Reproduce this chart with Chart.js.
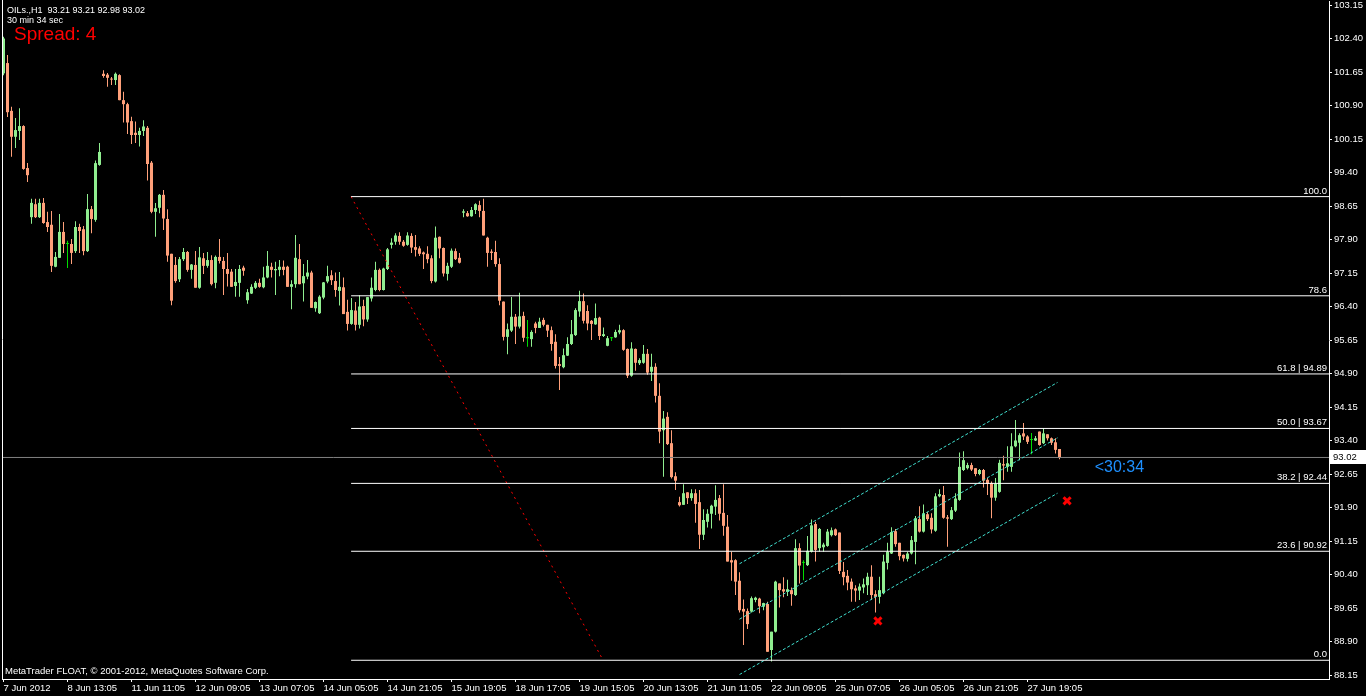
<!DOCTYPE html>
<html>
<head>
<meta charset="utf-8">
<title>OILs.,H1</title>
<script src="https://cdn.jsdelivr.net/npm/chart.js@4/dist/chart.umd.min.js"></script>
<style>
  html, body { margin: 0; padding: 0; background: #000; overflow: hidden; }
  canvas { display: block; background: #000; }
</style>
</head>
<body>
<canvas id="chart" width="1366" height="696"></canvas>
<script>
// hourly bars, OILs. H1
const openP = [
  101.62,101.85,100.78,100.20,100.33,100.44,99.50,98.40,98.69,98.40,
  98.72,98.29,98.23,97.29,97.49,98.07,97.80,97.80,97.64,98.18,
  98.13,97.64,98.58,98.34,99.57,101.61,101.59,101.50,101.47,101.58,
  101.02,100.93,100.55,100.29,100.24,100.33,100.40,99.62,98.52,98.61,
  98.90,98.36,97.58,97.33,97.01,97.46,97.62,97.22,97.33,96.82,
  97.48,97.31,97.44,96.93,97.51,97.42,97.24,97.18,96.86,96.93,
  97.27,96.54,96.69,96.82,96.93,96.83,97.05,97.29,97.21,97.22,
  97.29,97.29,96.84,96.90,97.46,96.92,97.07,97.16,96.36,96.25,
  96.60,96.96,97.10,96.97,96.75,96.83,96.28,96.01,96.31,95.99,
  96.41,96.11,96.58,96.77,97.22,96.77,97.24,97.78,97.85,97.98,
  97.85,97.78,97.98,97.73,97.70,97.61,97.58,97.48,96.96,97.96,
  97.71,97.13,97.29,97.64,97.49,98.50,98.49,98.42,98.56,98.67,
  98.54,97.94,97.63,97.62,97.35,96.51,95.72,95.86,96.17,95.95,
  96.19,95.69,95.67,96.02,95.92,96.10,95.99,95.87,95.61,95.11,
  95.04,95.30,95.56,95.76,96.29,96.52,96.30,96.08,96.00,96.15,
  95.74,95.52,95.69,95.71,95.82,95.87,95.45,94.85,95.45,95.13,
  95.14,95.34,94.94,95.05,94.40,93.63,93.93,93.34,92.60,92.02,
  91.96,92.24,92.11,92.22,92.02,91.29,91.58,91.76,91.92,92.11,
  91.78,91.47,90.72,90.72,90.26,89.63,89.58,89.57,89.83,89.86,
  89.68,89.74,88.71,89.12,90.20,90.07,90.01,90.05,89.94,90.99,
  90.66,90.61,90.91,91.53,90.99,91.01,91.04,91.28,91.41,91.34,
  90.46,90.37,90.24,90.09,90.04,90.11,90.16,90.35,89.96,89.90,
  89.98,90.66,90.87,91.37,91.11,90.84,90.75,90.87,91.13,91.64,
  91.36,91.75,91.67,91.38,92.15,92.18,91.68,91.64,91.83,92.07,
  92.74,92.78,92.85,92.78,92.65,92.74,92.52,92.45,92.12,92.25,
  92.87,92.81,92.81,93.27,93.35,93.56,93.49,93.41,93.40,93.60,
  93.34,93.54,93.45,93.36,93.21
];
const highP = [
  102.44,102.03,100.87,100.62,100.84,100.46,99.61,98.81,98.81,98.81,
  98.83,98.52,98.54,97.62,98.47,98.29,97.87,97.91,98.31,98.25,
  98.20,98.92,98.65,99.67,100.06,101.69,101.63,101.54,101.64,101.60,
  101.21,100.96,100.65,100.54,100.40,100.57,100.44,99.66,98.72,98.92,
  99.01,98.58,97.58,97.51,97.51,97.71,97.64,97.35,97.64,97.73,
  97.60,97.62,97.55,97.54,97.91,97.51,97.60,97.24,97.24,97.33,
  97.31,96.79,96.90,96.97,97.02,97.29,97.64,97.38,97.40,97.44,
  97.43,97.31,96.99,98.00,97.80,97.35,97.44,97.20,96.51,96.65,
  96.95,97.31,97.21,97.16,97.17,97.05,96.55,96.59,96.50,96.65,
  96.55,96.61,97.05,97.40,97.25,97.27,97.71,97.93,98.04,98.06,
  97.89,98.06,98.04,98.00,97.75,97.63,97.75,97.55,98.19,97.97,
  97.72,97.38,97.70,97.70,97.60,98.58,98.54,98.63,98.71,98.77,
  98.81,97.96,97.68,97.87,97.48,96.51,96.02,96.61,96.23,96.71,
  96.28,96.10,95.87,96.06,96.15,96.15,95.99,95.95,95.78,95.27,
  95.46,95.71,96.10,96.36,96.75,96.69,96.43,96.10,96.47,96.17,
  95.93,95.74,95.72,95.88,95.99,95.89,95.46,95.60,95.46,95.24,
  95.54,95.45,95.34,95.13,94.68,94.06,94.03,93.63,92.69,92.14,
  92.42,92.24,92.31,92.31,92.29,91.86,91.86,91.96,92.40,92.18,
  92.42,91.73,90.91,90.74,90.45,89.84,89.64,89.91,89.90,89.88,
  89.77,89.79,89.12,90.26,90.20,90.34,90.28,90.11,91.19,91.10,
  90.72,91.26,91.63,91.58,91.44,91.11,91.42,91.45,91.43,91.34,
  90.68,90.50,90.31,90.16,90.20,90.31,90.44,90.61,90.05,90.35,
  90.84,91.11,91.46,91.42,91.11,90.85,90.91,91.26,91.71,91.93,
  91.97,91.80,91.77,92.22,92.31,92.38,91.73,91.91,92.22,93.13,
  93.16,92.90,92.90,92.78,92.76,92.76,92.56,92.48,92.56,92.97,
  93.06,93.27,93.56,93.86,93.56,93.79,93.52,93.57,93.50,93.60,
  93.67,93.54,93.47,93.45,93.21
];
const lowP = [
  101.58,100.64,99.75,99.95,100.13,99.46,99.19,98.25,98.38,98.38,
  98.25,98.07,97.17,97.28,97.49,97.60,97.26,97.35,97.60,97.60,
  97.55,97.62,98.04,98.30,99.55,101.52,101.32,101.36,101.36,101.02,
  100.52,100.26,100.04,100.06,99.98,100.22,99.22,98.49,97.96,98.49,
  98.11,97.40,96.43,96.93,96.95,97.42,97.18,97.02,96.82,96.80,
  97.13,97.27,96.87,96.81,97.36,96.66,96.85,96.84,96.62,96.62,
  97.09,96.46,96.68,96.79,96.82,96.81,97.03,97.05,96.66,97.08,
  97.10,96.84,96.34,96.82,96.90,96.51,97.01,96.37,96.28,96.23,
  96.56,96.92,96.88,96.62,96.42,96.23,95.86,95.99,95.86,95.91,
  95.96,96.06,96.51,96.74,96.74,96.76,97.22,97.70,97.78,97.78,
  97.74,97.76,97.60,97.52,97.53,97.24,97.37,96.92,96.94,97.48,
  97.07,96.98,97.26,97.44,97.36,98.40,98.41,98.41,98.47,98.40,
  97.99,97.29,97.44,97.29,96.43,95.64,95.33,95.83,95.56,95.91,
  95.61,95.50,95.50,95.80,95.92,95.95,95.72,95.41,95.01,94.53,
  95.02,95.29,95.54,95.74,96.17,96.02,95.87,95.65,95.99,95.65,
  95.72,95.51,95.63,95.70,95.78,95.41,94.80,94.83,94.96,95.09,
  95.12,94.87,94.73,94.25,93.34,92.59,93.30,92.55,92.29,91.92,
  91.96,91.98,92.05,91.56,90.97,91.17,91.45,91.43,91.73,91.61,
  91.27,90.69,90.26,89.94,89.55,88.82,89.18,89.55,89.78,89.53,
  89.60,88.67,88.45,89.10,89.66,89.89,89.92,89.70,89.92,90.20,
  90.27,90.59,90.89,90.69,90.91,90.91,91.02,91.25,91.26,90.41,
  90.16,90.05,89.79,89.79,89.83,89.98,89.94,89.83,89.55,89.75,
  89.96,90.51,90.86,91.02,90.72,90.69,90.69,90.85,90.63,91.34,
  91.34,91.60,91.32,91.36,92.13,91.65,91.02,91.62,91.80,92.05,
  92.72,92.75,92.72,92.60,92.62,92.35,92.18,91.66,92.05,92.23,
  92.51,92.70,92.70,93.25,92.96,93.41,93.32,93.09,93.39,93.28,
  93.32,93.40,93.30,93.11,92.98
];
const closeP = [
  102.40,100.75,100.20,100.35,100.44,99.48,99.34,98.72,98.40,98.72,
  98.27,98.18,97.31,97.51,98.07,97.80,97.80,97.60,98.18,98.09,
  97.64,98.58,98.36,99.61,99.86,101.56,101.52,101.48,101.61,101.02,
  100.93,100.52,100.24,100.24,100.33,100.43,99.59,98.52,98.60,98.90,
  98.37,97.54,96.53,96.97,97.46,97.62,97.22,97.34,96.82,97.50,
  97.31,97.44,96.90,97.51,97.42,97.24,97.13,96.84,96.95,97.24,
  97.20,96.72,96.84,96.93,96.84,97.05,97.31,97.22,97.24,97.29,
  97.22,96.84,96.90,97.49,96.90,97.08,97.16,96.37,96.50,96.62,
  96.94,97.08,96.99,96.77,96.84,96.23,96.01,96.32,95.99,96.40,
  96.11,96.61,96.82,97.22,96.77,97.25,97.68,97.83,97.99,97.85,
  97.76,97.99,97.72,97.67,97.58,97.57,97.46,96.97,97.94,97.70,
  97.14,97.31,97.65,97.46,97.38,98.53,98.42,98.56,98.69,98.54,
  97.99,97.60,97.60,97.35,96.53,95.72,95.89,96.17,95.95,96.18,
  95.70,95.69,95.83,95.92,96.06,95.99,95.86,95.56,95.07,95.07,
  95.31,95.56,95.78,96.32,96.52,96.08,96.02,96.01,96.14,95.74,
  95.78,95.69,95.69,95.83,95.87,95.43,94.85,95.46,95.14,95.20,
  95.34,94.92,95.05,94.40,93.60,93.89,93.32,92.58,92.50,91.95,
  92.22,92.11,92.22,91.98,91.29,91.62,91.76,91.94,92.07,91.76,
  91.49,90.69,90.67,90.24,89.60,89.57,89.29,89.87,89.88,89.69,
  89.76,88.67,89.12,90.24,90.05,90.02,90.07,89.96,90.99,90.60,
  90.66,90.93,91.50,90.95,91.42,91.07,91.36,91.39,91.28,90.48,
  90.34,90.22,90.07,90.04,90.13,90.18,90.35,89.94,89.90,90.05,
  90.69,90.91,91.35,91.08,90.81,90.76,90.87,91.17,91.66,91.36,
  91.77,91.64,91.41,92.15,92.20,91.67,91.65,91.84,92.10,92.81,
  92.96,92.85,92.75,92.65,92.74,92.50,92.43,92.12,92.43,92.90,
  92.84,92.89,93.27,93.40,93.52,93.49,93.37,93.41,93.45,93.30,
  93.56,93.45,93.35,93.19,93.02
];

// time axis: one label every 16 bars
const dateTicks = [0,16,32,48,64,80,96,112,128,144,160,176,192,208,224,240,256];
const dateLabels = ['7 Jun 2012','8 Jun 13:05','11 Jun 11:05','12 Jun 09:05','13 Jun 07:05',
  '14 Jun 05:05','14 Jun 21:05','15 Jun 19:05','18 Jun 17:05','19 Jun 15:05','20 Jun 13:05',
  '21 Jun 11:05','22 Jun 09:05','25 Jun 07:05','26 Jun 05:05','26 Jun 21:05','27 Jun 19:05'];
const priceTicks = [88.15,88.90,89.65,90.40,91.15,91.90,92.65,93.40,94.15,94.90,95.65,
  96.40,97.15,97.90,98.65,99.40,100.15,100.90,101.65,102.40,103.15];

// fibo retracement object
const fibLevels = ['0.0','23.6','38.2','50.0','61.8','78.6','100.0'];
const fibPrices = [88.48,90.92,92.44,93.67,94.89,96.64,98.86];
const fibShowPrice = [false,true,true,true,true,false,false];
const fibTrendX = [86.9,149.9];
const fibTrendY = [98.86,88.48];

// equidistant channel
const channelX = [184,263.5];
const channelUpper = [90.64,94.70];
const channelMid = [89.40,93.46];
const channelLower = [88.16,92.22];

// arrows (red crosses)
const crossX = [218.6,265.9];
const crossY = [89.36,92.05];

const bid = 93.02;
const header = 'OILs.,H1  93.21 93.21 92.98 93.02';
const timer = '30 min 34 sec';
const spreadText = 'Spread: 4';
const countdown = '<30:34';
const copyright = 'MetaTrader FLOAT, \u00a9 2001-2012, MetaQuotes Software Corp.';

const xMin = -0.375, xMax = 331.375;
const yMin = 88.0606, yMax = 103.2396;
const FONT = '"Liberation Sans", Arial, sans-serif';

const BULL = '#90ee90', BEAR = '#ffa07a', DOJI = '#00dd00';
const candleColor = openP.map((o, i) => closeP[i] > o ? BULL : (closeP[i] < o ? BEAR : DOJI));

const bodies = openP.map((o, i) => ({ x: i, y: [Math.min(o, closeP[i]), Math.max(o, closeP[i])] }));
const wicks = openP.map((o, i) => ({ x: i, y: [lowP[i], highP[i]] }));

function seg(x0, y0, x1, y1) { return [{ x: x0, y: y0 }, { x: x1, y: y1 }]; }

const lineBase = { type: 'line', pointRadius: 0, borderWidth: 1, fill: false, tension: 0, order: 0 };

const fibSets = fibPrices.map(p => Object.assign({}, lineBase, {
  data: seg(fibTrendX[0], p, xMax, p), borderColor: '#ffffff'
}));

const overlay = {
  id: 'overlay',
  afterDraw(chart) {
    const { ctx, chartArea: a, scales: { x, y } } = chart;
    ctx.save();
    ctx.strokeStyle = '#ffffff';
    ctx.lineWidth = 1;
    ctx.beginPath();
    ctx.moveTo(a.left + 0.5, 0);
    ctx.lineTo(a.left + 0.5, a.bottom);
    ctx.stroke();

    // fibo level captions
    ctx.font = '9.5px ' + FONT;
    ctx.fillStyle = '#ffffff';
    ctx.textAlign = 'right';
    ctx.textBaseline = 'bottom';
    fibLevels.forEach((lvl, k) => {
      const t = fibShowPrice[k] ? lvl + ' | ' + fibPrices[k].toFixed(2) : lvl;
      ctx.fillText(t, a.right - 2, Math.round(y.getPixelForValue(fibPrices[k])) - 1);
    });

    ctx.textAlign = 'left';
    ctx.textBaseline = 'middle';
    ctx.font = '9px ' + FONT;
    ctx.fillText(header, 7, 11);
    ctx.fillText(timer, 7, 21);
    ctx.font = '9.5px ' + FONT;
    ctx.fillText(copyright, 5, 671);
    ctx.font = '19px ' + FONT;
    ctx.fillStyle = '#ff0000';
    ctx.fillText(spreadText, 14, 35);

    const by = y.getPixelForValue(bid);
    ctx.font = '16px ' + FONT;
    ctx.fillStyle = '#1e90ff';
    ctx.fillText(countdown, x.getPixelForValue(openP.length + 7.8), by + 10);

    ctx.fillStyle = '#ffffff';
    ctx.fillRect(a.right + 1, Math.round(by) - 7, 36, 14);
    ctx.fillStyle = '#000000';
    ctx.font = '9.5px ' + FONT;
    ctx.fillText(bid.toFixed(2), a.right + 4, Math.round(by));
    ctx.restore();
  }
};

new Chart(document.getElementById('chart'), {
  type: 'bar',
  data: {
    datasets: [
      ...fibSets,
      Object.assign({}, lineBase, { data: seg(xMin, bid, xMax, bid), borderColor: '#808080', order: 1 }),
      Object.assign({}, lineBase, { data: seg(fibTrendX[0], fibTrendY[0], fibTrendX[1], fibTrendY[1]),
        borderColor: '#ff0000', borderDash: [2, 4] }),
      Object.assign({}, lineBase, { data: seg(channelX[0], channelUpper[0], channelX[1], channelUpper[1]),
        borderColor: '#40e0d0', borderDash: [3, 2] }),
      Object.assign({}, lineBase, { data: seg(channelX[0], channelMid[0], channelX[1], channelMid[1]),
        borderColor: '#40e0d0', borderDash: [3, 2] }),
      Object.assign({}, lineBase, { data: seg(channelX[0], channelLower[0], channelX[1], channelLower[1]),
        borderColor: '#40e0d0', borderDash: [3, 2] }),
      {
        type: 'scatter', data: crossX.map((v, i) => ({ x: v, y: crossY[i] })),
        pointStyle: 'crossRot', pointRadius: 5, borderWidth: 3,
        borderColor: '#ff0000', backgroundColor: '#ff0000', order: 0
      },
      {
        label: 'body', data: bodies, backgroundColor: candleColor, barThickness: 3,
        grouped: false, minBarLength: 1, inflateAmount: 0, borderWidth: 0, order: 5
      },
      {
        label: 'wick', data: wicks, backgroundColor: candleColor, barThickness: 1,
        grouped: false, inflateAmount: 0, borderWidth: 0, order: 6
      }
    ]
  },
  options: {
    responsive: false,
    devicePixelRatio: 1,
    animation: false,
    events: [],
    layout: { autoPadding: false, padding: { left: 2, top: 1, right: 0, bottom: 0 } },
    plugins: { legend: { display: false }, tooltip: { enabled: false } },
    scales: {
      x: {
        type: 'linear', min: xMin, max: xMax, offset: false,
        grid: { drawOnChartArea: false, drawTicks: true, tickLength: 3, color: '#ffffff', offset: false },
        border: { color: '#ffffff' },
        ticks: {
          color: '#ffffff', font: { family: FONT, size: 9.5 }, align: 'start',
          maxRotation: 0, autoSkip: false, padding: 1,
          callback: v => { const k = dateTicks.indexOf(v); return k >= 0 ? dateLabels[k] : ''; }
        },
        afterBuildTicks: s => { s.ticks = dateTicks.map(v => ({ value: v })); },
        afterFit: s => { s.height = 17; s.paddingLeft = 0; s.paddingRight = 0; }
      },
      y: {
        position: 'right', min: yMin, max: yMax, beginAtZero: false,
        grid: { drawOnChartArea: false, tickLength: 3, color: '#ffffff' },
        border: { color: '#ffffff' },
        ticks: { color: '#ffffff', font: { family: FONT, size: 9.5 }, padding: 2, callback: v => v.toFixed(2) },
        afterBuildTicks: s => { s.ticks = priceTicks.map(v => ({ value: v })); },
        afterFit: s => { s.width = 37; s.paddingTop = 0; s.paddingBottom = 0; }
      }
    }
  },
  plugins: [overlay]
});
</script>
</body>
</html>
